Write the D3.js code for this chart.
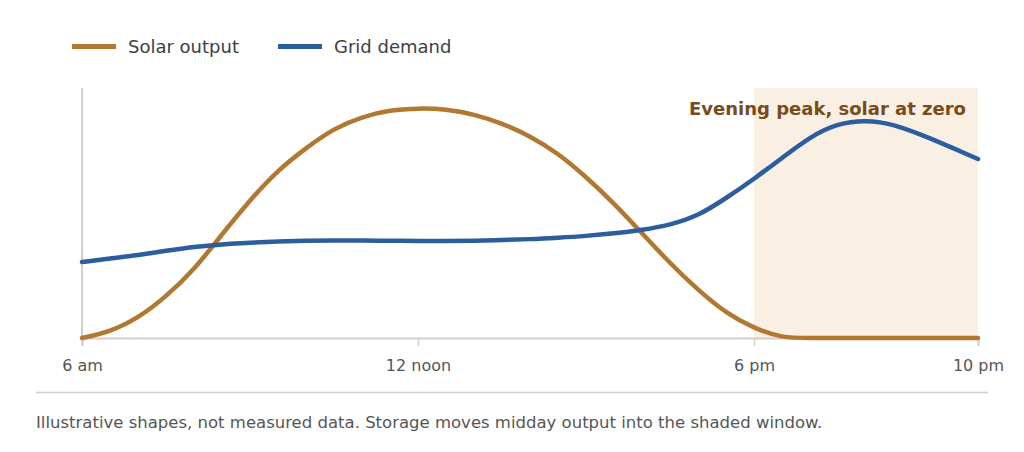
<!DOCTYPE html>
<html>
<head>
<meta charset="utf-8">
<script src="https://cdn.jsdelivr.net/npm/d3@7"></script>
<style>
  html, body { margin: 0; padding: 0; background: #ffffff; }
  svg { display: block; font-family: "DejaVu Sans", sans-serif; }
</style>
</head>
<body>
<svg id="chart" width="1024" height="452"></svg>
<script>
// ---- data ----
const hours = [6, 6.5, 7, 7.5, 8, 8.5, 9, 9.5, 10, 10.5, 11, 11.5, 12, 12.5, 13, 13.5, 14, 14.5,
               15, 15.5, 16, 16.5, 17, 17.5, 18, 18.5, 19, 19.5, 20, 20.5, 21, 21.5, 22];
const solarOutput = [0, 2.5, 7.9, 16.5, 27.2, 41.5, 55.2, 67.2, 76, 83.9, 88.5, 91.2, 91.9, 91.6, 89.5, 85.9, 80.8, 73.9,
                     64.5, 53.9, 41.9, 29.9, 19.2, 9.9, 3.9, 0, 0, 0, 0, 0, 0, 0, 0];
const gridDemand = [30.4, 31.8, 33.1, 34.9, 36.5, 37.5, 38.1, 38.6, 38.9, 39, 39, 38.9, 38.8, 38.8, 38.9, 39.2, 39.5, 40.1,
                    40.8, 41.8, 43.2, 45.2, 48.8, 55.9, 63.6, 72, 80.5, 85.9, 87.2, 85.5, 81.2, 76.5, 71.6];
const tickHours = [6, 12, 18, 22];
const tickLabels = ["6 am", "12 noon", "6 pm", "10 pm"];
const seriesNames = ["Solar output", "Grid demand"];
const shadedWindow = [18, 22];
const annotationText = "Evening peak, solar at zero";
const footnote = "Illustrative shapes, not measured data. Storage moves midday output into the shaded window.";

const colors = { solar: "#b17831", demand: "#2c5d9f" };

const svg = d3.select("#chart");
const x = d3.scaleLinear().domain([6, 22]).range([82, 978]);
const y = d3.scaleLinear().domain([0, 100]).range([338, 88]);

// shaded window
svg.append("rect")
  .attr("x", x(shadedWindow[0]))
  .attr("y", y(100))
  .attr("width", x(shadedWindow[1]) - x(shadedWindow[0]))
  .attr("height", y(0) - y(100))
  .attr("fill", "#f9f0e3");

// y axis line
svg.append("line")
  .attr("x1", x(6)).attr("x2", x(6))
  .attr("y1", y(100)).attr("y2", y(0))
  .attr("stroke", "#d3cfc6").attr("stroke-width", 2);

// x axis
const xAxis = d3.axisBottom(x)
  .tickValues(tickHours)
  .tickFormat((d, i) => tickLabels[i])
  .tickSize(8)
  .tickPadding(14);
const gx = svg.append("g").attr("transform", `translate(0,${y(0)})`).call(xAxis);
gx.select(".domain").attr("stroke", "#d3cfc6").attr("stroke-width", 2);
gx.selectAll(".tick line").attr("stroke", "#d3cfc6").attr("stroke-width", 1.5);
gx.selectAll(".tick text")
  .attr("fill", "#555555")
  .style("font-size", "16px")
  .style("font-family", "DejaVu Sans, sans-serif");

// lines
const lineGen = (vals) => d3.line()
  .x((d, i) => x(hours[i]))
  .y(d => y(d))
  .curve(d3.curveBasis)(vals);

svg.append("path")
  .attr("d", lineGen(solarOutput))
  .attr("fill", "none")
  .attr("stroke", colors.solar)
  .attr("stroke-width", 4.5)
  .attr("stroke-linecap", "round")
  .attr("stroke-linejoin", "round");

svg.append("path")
  .attr("d", lineGen(gridDemand))
  .attr("fill", "none")
  .attr("stroke", colors.demand)
  .attr("stroke-width", 4.5)
  .attr("stroke-linecap", "round")
  .attr("stroke-linejoin", "round");

// annotation
svg.append("text")
  .attr("x", x(22) - 12)
  .attr("y", 115)
  .attr("text-anchor", "end")
  .attr("fill", "#7a4b1a")
  .style("font-size", "18px")
  .style("font-weight", "bold")
  .text(annotationText);

// legend
const legendItems = [
  { name: seriesNames[0], color: colors.solar, x: 72 },
  { name: seriesNames[1], color: colors.demand, x: 278 }
];
const lg = svg.append("g");
legendItems.forEach(it => {
  lg.append("line")
    .attr("x1", it.x).attr("x2", it.x + 44)
    .attr("y1", 46.5).attr("y2", 46.5)
    .attr("stroke", it.color).attr("stroke-width", 5);
  lg.append("text")
    .attr("x", it.x + 56)
    .attr("y", 53)
    .attr("fill", "#404040")
    .style("font-size", "18px")
    .text(it.name);
});

// separator + footnote
svg.append("line")
  .attr("x1", 36).attr("x2", 988)
  .attr("y1", 392.5).attr("y2", 392.5)
  .attr("stroke", "#d3cfc6").attr("stroke-width", 1.5);
svg.append("text")
  .attr("x", 36)
  .attr("y", 428)
  .attr("fill", "#555555")
  .style("font-size", "16.5px")
  .text(footnote);
</script>
</body>
</html>
